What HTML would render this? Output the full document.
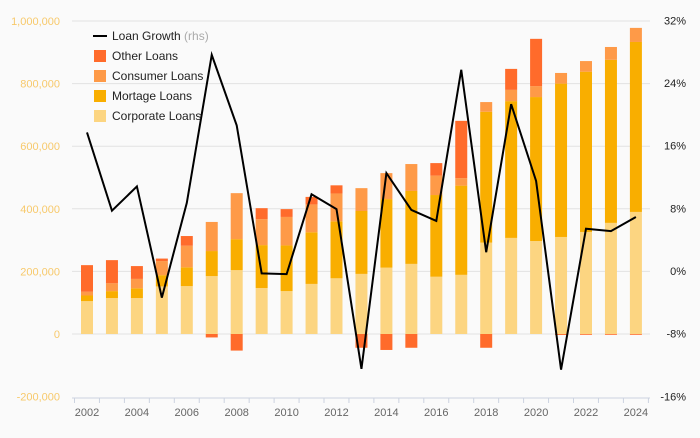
<!DOCTYPE html>
<html><head><meta charset="utf-8"><style>
body{margin:0;background:#fafafa;font-family:"Liberation Sans",sans-serif}
svg text{font-family:"Liberation Sans",sans-serif}
</style></head><body>
<svg id="c" width="700" height="433" xmlns="http://www.w3.org/2000/svg">
<rect width="700" height="433" fill="#fafafa"/>
</svg>
<script>
const years=[2002,2003,2004,2005,2006,2007,2008,2009,2010,2011,2012,2013,2014,2015,2016,2017,2018,2019,2020,2021,2022,2023,2024];
const corporate=[105,115,115,152,153,185,204,147,137,160,178,192,212,224,183,189,292,307,297,310,326,355,390];
const mortgage=[18,22,31,36,60,80,99,137,146,165,182,201,219,233,261,285,418,437,460,490,512,521,543];
const consumer=[12,25,30,45,69,93,147,83,91,89,89,73,83,86,62,24,31,36,35,34,34,41,45];
const other=[85,74,41,8,31,-11,-53,35,25,24,26,-44,-51,-44,40,183,-44,67,151,-3,-2,-2,-2];
const growth=[17.7,7.7,10.8,-3.4,8.7,27.6,18.6,-0.3,-0.4,9.8,7.9,-12.5,12.5,7.8,6.4,25.7,2.4,21.3,11.5,-12.6,5.4,5.1,6.9];
const leftTicks=[-200000,0,200000,400000,600000,800000,1000000];
const rightTicks=[-16,-8,0,8,16,24,32];
const NS="http://www.w3.org/2000/svg",svg=document.getElementById('c');
const xs=i=>87+i*24.95;
const yl=v=>334-v*1000*(313/1000000);
const yr=v=>271-v*7.83;
function el(t,a,txt){const e=document.createElementNS(NS,t);for(const k in a)e.setAttribute(k,a[k]);if(txt!==undefined)e.textContent=txt;svg.appendChild(e);return e;}
leftTicks.forEach(v=>{
 const y=334-v*313/1000000;
 if(v>=0){const g=el('line',{x1:72,x2:650,y1:y,y2:y,stroke:'#e2e2e2','stroke-width':1});
 
 }
 const t=el('text',{x:60,y:y+4,'text-anchor':'end','font-size':11,fill:'#f7c96b'},v.toLocaleString('en-US'));
 
 
});
rightTicks.forEach(v=>{
 const t=el('text',{x:686,y:yr(v)+4,'text-anchor':'end','font-size':11,fill:'#222'},v+'%');
 
 
});
const ax=el('line',{x1:72,x2:650,y1:398,y2:398,stroke:'#ccd3e0','stroke-width':1});


years.forEach((yr_,i)=>{
 const tk=el('line',{x1:xs(i)-12.5,x2:xs(i)-12.5,y1:398,y2:403,stroke:'#ccd3e0'});
 
 
 if(i%2===0){const t=el('text',{x:xs(i),y:416,'text-anchor':'middle','font-size':11,fill:'#666'},yr_);
 
 }
});
const tk2=el('line',{x1:xs(22)+12.5,x2:xs(22)+12.5,y1:398,y2:403,stroke:'#ccd3e0'});


const series=[[corporate,'#fcd581','corporate'],[mortgage,'#f9ae00','mortgage'],[consumer,'#fe9a48','consumer'],[other,'#ff6b2b','other']];
years.forEach((yr_,i)=>{
 let pos=0,neg=0;
 series.forEach(([arr,col,nm])=>{
  const v=arr[i];let y0,y1;
  if(v>=0){y0=pos;y1=pos+v;pos=y1;}else{y0=neg;y1=neg+v;neg=y1;}
  const top=Math.min(yl(y0),yl(y1)),h=Math.abs(yl(y0)-yl(y1));
  const r=el('rect',{x:xs(i)-6,y:top,width:12,height:Math.max(h,0.8),fill:col});
  
  
 });
});
const pl=el('polyline',{points:growth.map((g,i)=>xs(i)+','+yr(g)).join(' '),fill:'none',stroke:'#000','stroke-width':2});


const leg=[['line','#000','Loan Growth','(rhs)'],['rect','#ff6b2b','Other Loans'],['rect','#fe9a48','Consumer Loans'],['rect','#f9ae00','Mortage Loans'],['rect','#fcd581','Corporate Loans']];
leg.forEach((l,k)=>{
 const y=36+k*20;
 if(l[0]==='line'){const m=el('line',{x1:93,x2:107,y1:y,y2:y,stroke:'#000','stroke-width':2});
  
  }
 else{const m=el('rect',{x:94,y:y-6,width:12,height:12,fill:l[1]});
  
  }
 const t=el('text',{x:112,y:y+4,'font-size':12,fill:'#222'},l[2]);
 
 
 if(l[3]){const s=document.createElementNS(NS,'tspan');s.setAttribute('fill','#aaa');s.textContent=' '+l[3];t.appendChild(s);}
});
</script>
</body></html>
